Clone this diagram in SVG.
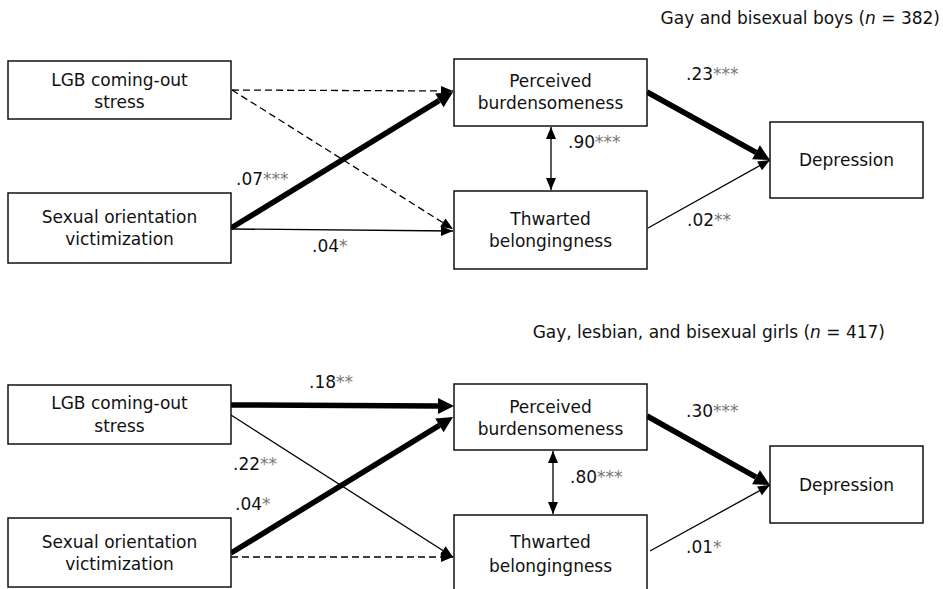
<svg xmlns="http://www.w3.org/2000/svg" width="943" height="589" viewBox="0 0 943 589">
<style>
  text { font-family: "DejaVu Sans", Verdana, sans-serif; font-size: 17px; fill: #111; }
  .node rect { fill: #fff; stroke: #111; stroke-width: 1.5; }
  .thin { stroke: #000; stroke-width: 1.3; fill: none; }
  .dash { stroke: #000; stroke-width: 1.3; fill: none; stroke-dasharray: 7 4; }
  .thick { stroke: #000; stroke-width: 5.5; fill: none; }
  .ast { fill: #777; }
</style>
<defs>
  <marker id="ah" markerUnits="userSpaceOnUse" markerWidth="14" markerHeight="12" viewBox="0 -6 12 12" refX="12" refY="0" orient="auto">
    <path d="M0,-5 L12,0 L0,5 z" fill="#000"/>
  </marker>
  <marker id="ahs" markerUnits="userSpaceOnUse" markerWidth="14" markerHeight="12" viewBox="0 -6 12 12" refX="12" refY="0" orient="auto-start-reverse">
    <path d="M0,-5 L12,0 L0,5 z" fill="#000"/>
  </marker>
  <marker id="ahk" markerUnits="userSpaceOnUse" markerWidth="18" markerHeight="18" viewBox="0 -9 17 18" refX="0" refY="0" orient="auto">
    <path d="M0,-8 L16,0 L0,8 z" fill="#000"/>
  </marker>
</defs>

<text x="940" y="24" text-anchor="end">Gay and bisexual boys (<tspan font-style="italic">n</tspan> = 382)</text>
<text x="885" y="338" text-anchor="end">Gay, lesbian, and bisexual girls (<tspan font-style="italic">n</tspan> = 417)</text>

<g id="connectors">
  <!-- top panel -->
  <line class="dash" x1="232" y1="90" x2="453" y2="91" marker-end="url(#ah)"/>
  <line class="dash" x1="232" y1="90" x2="453" y2="229" marker-end="url(#ah)"/>
  <line class="thick" x1="231" y1="228" x2="439.4" y2="100.4" marker-end="url(#ahk)"/>
  <line class="thin" x1="231" y1="229" x2="453" y2="231" marker-end="url(#ah)"/>
  <line class="thick" x1="647" y1="92" x2="756" y2="152.3" marker-end="url(#ahk)"/>
  <line class="thin" x1="648" y1="228" x2="770" y2="160" marker-end="url(#ah)"/>
  <line class="thin" x1="551" y1="127" x2="551" y2="190" marker-start="url(#ahs)" marker-end="url(#ahs)"/>
  <!-- bottom panel -->
  <line class="thick" x1="231" y1="405" x2="438" y2="405.9" marker-end="url(#ahk)"/>
  <line class="thin" x1="231" y1="415" x2="453" y2="557" marker-end="url(#ah)"/>
  <line class="thick" x1="231" y1="553" x2="439.4" y2="425.4" marker-end="url(#ahk)"/>
  <line class="dash" x1="231" y1="557" x2="453" y2="557" marker-end="url(#ah)"/>
  <line class="thick" x1="647" y1="416" x2="756" y2="477.2" marker-end="url(#ahk)"/>
  <line class="thin" x1="650" y1="551" x2="770" y2="485" marker-end="url(#ah)"/>
  <line class="thin" x1="553" y1="451" x2="553" y2="514" marker-start="url(#ahs)" marker-end="url(#ahs)"/>

  <g id="labels">
    <text x="236" y="185">.07<tspan class="ast">***</tspan></text>
    <text x="312" y="252">.04<tspan class="ast">*</tspan></text>
    <text x="568" y="148">.90<tspan class="ast">***</tspan></text>
    <text x="686" y="80">.23<tspan class="ast">***</tspan></text>
    <text x="687" y="226">.02<tspan class="ast">**</tspan></text>
    <text x="309" y="388">.18<tspan class="ast">**</tspan></text>
    <text x="233" y="470">.22<tspan class="ast">**</tspan></text>
    <text x="235" y="510">.04<tspan class="ast">*</tspan></text>
    <text x="570" y="483">.80<tspan class="ast">***</tspan></text>
    <text x="686" y="417">.30<tspan class="ast">***</tspan></text>
    <text x="686" y="553">.01<tspan class="ast">*</tspan></text>
  </g>
</g>

<!-- top panel nodes -->
<g id="top-lgb" class="node">
  <rect x="8" y="61" width="223" height="58"/>
  <text x="119.5" y="86" text-anchor="middle">LGB coming-out</text>
  <text x="119.5" y="108" text-anchor="middle">stress</text>
</g>
<g id="top-sov" class="node">
  <rect x="8" y="193" width="223" height="70"/>
  <text x="119.5" y="223" text-anchor="middle">Sexual orientation</text>
  <text x="119.5" y="245" text-anchor="middle">victimization</text>
</g>
<g id="top-pb" class="node">
  <rect x="454" y="59" width="193" height="67"/>
  <text x="550.5" y="87" text-anchor="middle">Perceived</text>
  <text x="550.5" y="109" text-anchor="middle">burdensomeness</text>
</g>
<g id="top-tb" class="node">
  <rect x="454" y="191" width="193" height="78"/>
  <text x="550.5" y="225" text-anchor="middle">Thwarted</text>
  <text x="550.5" y="247" text-anchor="middle">belongingness</text>
</g>
<g id="top-dep" class="node">
  <rect x="770" y="122" width="153" height="76"/>
  <text x="846.5" y="166" text-anchor="middle">Depression</text>
</g>

<!-- bottom panel nodes -->
<g id="bot-lgb" class="node">
  <rect x="8" y="385" width="223" height="59"/>
  <text x="119.5" y="409" text-anchor="middle">LGB coming-out</text>
  <text x="119.5" y="432" text-anchor="middle">stress</text>
</g>
<g id="bot-sov" class="node">
  <rect x="8" y="518" width="223" height="69"/>
  <text x="119.5" y="548" text-anchor="middle">Sexual orientation</text>
  <text x="119.5" y="570" text-anchor="middle">victimization</text>
</g>
<g id="bot-pb" class="node">
  <rect x="454" y="384" width="193" height="66"/>
  <text x="550.5" y="413" text-anchor="middle">Perceived</text>
  <text x="550.5" y="435" text-anchor="middle">burdensomeness</text>
</g>
<g id="bot-tb" class="node">
  <rect x="454" y="515" width="193" height="85"/>
  <text x="550.5" y="548" text-anchor="middle">Thwarted</text>
  <text x="550.5" y="572" text-anchor="middle">belongingness</text>
</g>
<g id="bot-dep" class="node">
  <rect x="770" y="446" width="153" height="77"/>
  <text x="846.5" y="491" text-anchor="middle">Depression</text>
</g>
</svg>
